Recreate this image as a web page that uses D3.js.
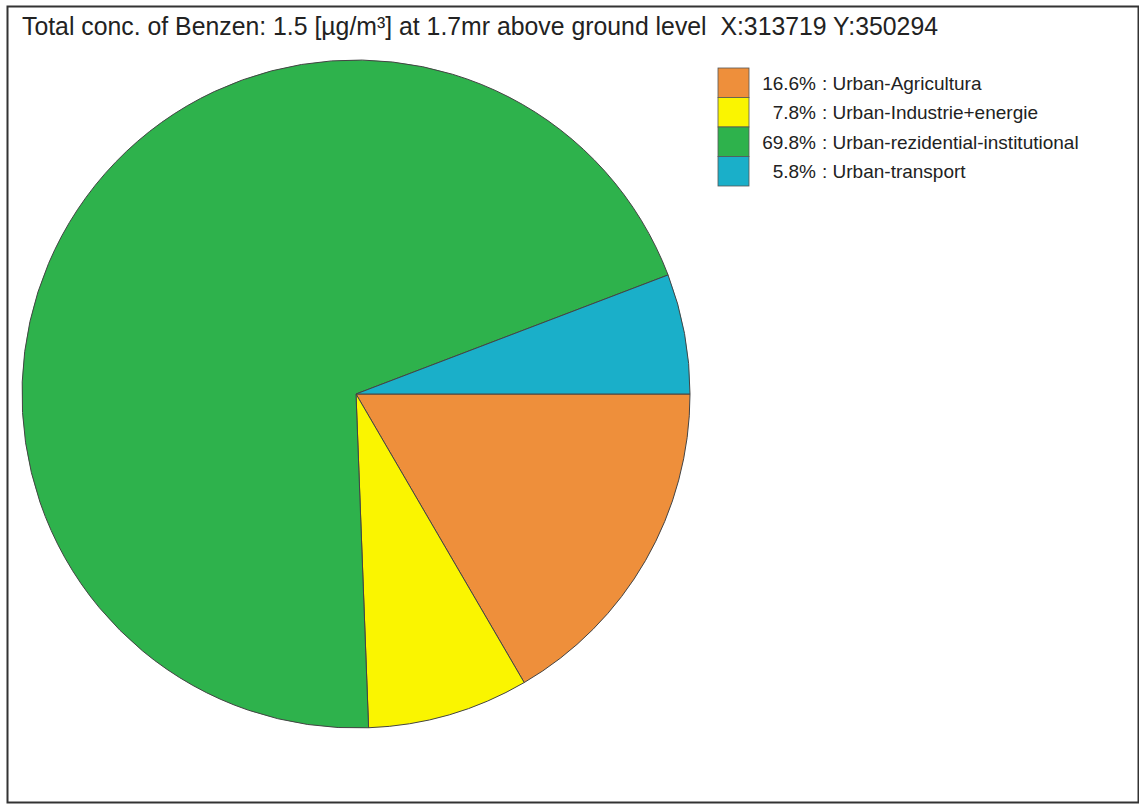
<!DOCTYPE html>
<html>
<head>
<meta charset="utf-8">
<script src="https://cdn.jsdelivr.net/npm/d3@7"></script>
<style>
  html, body { margin: 0; padding: 0; background: #fff; }
  svg { display: block; }
</style>
</head>
<body>
<svg id="chart" width="1139" height="806"></svg>
<script>
const title = "Total conc. of Benzen: 1.5 [µg/m³] at 1.7mr above ground level  X:313719 Y:350294";
const categories = ["Urban-Agricultura", "Urban-Industrie+energie", "Urban-rezidential-institutional", "Urban-transport"];
const values = [16.6, 7.8, 69.8, 5.8];
const colors = ["#EE8F3B", "#FAF500", "#2EB24C", "#1AAFC9"];

const svg = d3.select("#chart");
const W = 1139, H = 806;
const FONT = "Liberation Sans, Arial, sans-serif";

// frame
svg.append("rect").attr("x", 7.5).attr("y", 6.5).attr("width", W - 8).attr("height", H - 10)
  .attr("fill", "#fff").attr("stroke", "#333").attr("stroke-width", 2);

svg.append("text").attr("x", 22).attr("y", 35)
  .attr("font-family", FONT).attr("font-size", 25)
  .attr("textLength", 916).attr("lengthAdjust", "spacingAndGlyphs")
  .attr("fill", "#222").style("white-space", "pre").text(title);

const cx = 356, cy = 394, r = 334;
const pie = d3.pie().sort(null).value(d => d).startAngle(Math.PI / 2).endAngle(Math.PI / 2 + 2 * Math.PI);
const arc = d3.arc().innerRadius(0).outerRadius(r);
const color = d3.scaleOrdinal().domain(categories).range(colors);

svg.append("g").attr("transform", `translate(${cx},${cy})`)
  .selectAll("path").data(pie(values)).join("path")
  .attr("d", arc)
  .attr("fill", (d, i) => color(categories[i]))
  .attr("stroke", "#444").attr("stroke-width", 1);

// legend
const ly = d3.scaleBand().domain(categories).range([68, 186]);
const lg = svg.append("g");
lg.selectAll("rect").data(categories).join("rect")
  .attr("x", 718).attr("y", d => ly(d)).attr("width", 31).attr("height", ly.bandwidth())
  .attr("fill", d => color(d)).attr("stroke", "#555").attr("stroke-width", 0.8);
lg.selectAll("text.pct").data(categories).join("text").attr("class", "pct")
  .attr("x", 816).attr("y", d => ly(d) + ly.bandwidth() / 2 + 7)
  .attr("text-anchor", "end")
  .attr("font-family", FONT).attr("font-size", 19).attr("fill", "#222")
  .text((d, i) => d3.format(".1f")(values[i]) + "%");
lg.selectAll("text.lab").data(categories).join("text").attr("class", "lab")
  .attr("x", 822).attr("y", d => ly(d) + ly.bandwidth() / 2 + 7)
  .attr("font-family", FONT).attr("font-size", 19).attr("fill", "#222")
  .text(d => ": " + d);
</script>
</body>
</html>
